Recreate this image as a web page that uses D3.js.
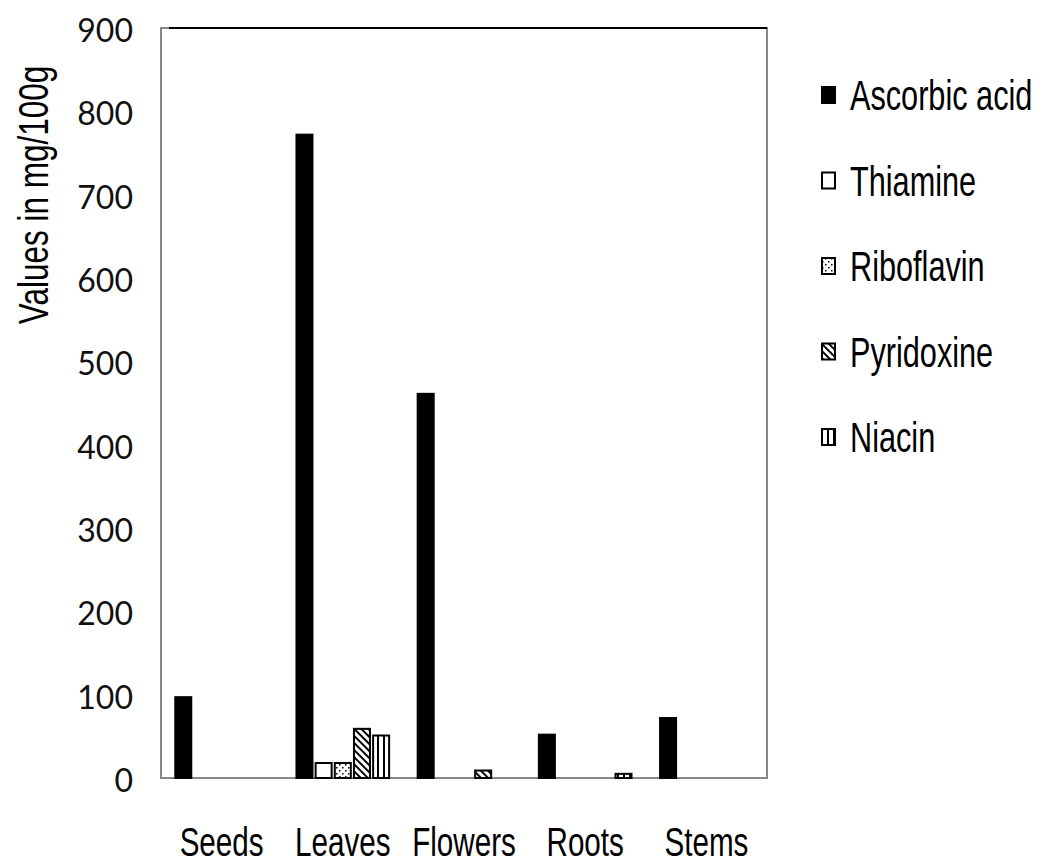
<!DOCTYPE html>
<html>
  <head>
    <meta charset="utf-8">
    <script src="https://d3js.org/d3.v7.min.js"></script>
    <title>Vitamins by plant part</title>
    <style>
      body { margin: 0px; background: #fff; }
      .narrow { font-family: 'Liberation Sans', Arial, sans-serif; fill: #000; }
      .ytick text { font-family: Lato, 'Noto Sans', sans-serif; font-size: 32px; fill: #111; }
    </style>
  </head>
  <body>
    <svg width="1044" height="865"></svg>
    <script>
      const categories = ['Seeds', 'Leaves', 'Flowers', 'Roots', 'Stems'];
      const seriesNames = ['Ascorbic acid', 'Thiamine', 'Riboflavin', 'Pyridoxine', 'Niacin'];
      const ascorbic = [97, 772, 461, 52, 72];
      const thiamine = [0, 18, 0, 0, 0];
      const riboflavin = [0, 18, 0, 0, 0];
      const pyridoxine = [0, 59, 9, 0, 0];
      const niacin = [0, 51, 0, 5, 0];
      const yTicks = [0, 100, 200, 300, 400, 500, 600, 700, 800, 900];
      const yLabel = 'Values in mg/100g';

      const seriesValues = [ascorbic, thiamine, riboflavin, pyridoxine, niacin];
      const fills = ['#000', '#fff', 'url(#dots)', 'url(#diag)', 'url(#vert)'];

      const margin = { left: 161, top: 28, right: 277, bottom: 87 };
      const svg = d3.select('svg');
      const width = +svg.attr('width');
      const height = +svg.attr('height');
      const innerWidth = width - margin.left - margin.right;
      const innerHeight = height - margin.top - margin.bottom;

      // patterns
      const defs = svg.append('defs');
      const dots = defs.append('pattern').attr('id', 'dots')
          .attr('patternUnits', 'userSpaceOnUse').attr('width', 6).attr('height', 6);
      dots.append('rect').attr('width', 6).attr('height', 6).attr('fill', '#fff');
      dots.append('rect').attr('x', 1).attr('y', 1).attr('width', 1.5).attr('height', 1.5).attr('fill', '#000');
      dots.append('rect').attr('x', 4).attr('y', 4).attr('width', 1.5).attr('height', 1.5).attr('fill', '#000');
      const diag = defs.append('pattern').attr('id', 'diag')
          .attr('patternUnits', 'userSpaceOnUse').attr('width', 5).attr('height', 5)
          .attr('patternTransform', 'rotate(-45)');
      diag.append('rect').attr('width', 5).attr('height', 5).attr('fill', '#fff');
      diag.append('rect').attr('width', 2).attr('height', 5).attr('fill', '#000');
      const vert = defs.append('pattern').attr('id', 'vert')
          .attr('patternUnits', 'userSpaceOnUse').attr('width', 6).attr('height', 6);
      vert.append('rect').attr('width', 6).attr('height', 6).attr('fill', '#fff');
      vert.append('rect').attr('x', 0).attr('width', 2).attr('height', 6).attr('fill', '#000');

      const g = svg.append('g')
          .attr('transform', `translate(${margin.left},${margin.top})`);

      const x0 = d3.scaleBand()
        .domain(categories)
        .range([0, innerWidth])
        .paddingInner(0.2)
        .paddingOuter(0.1);
      const x1 = d3.scaleBand()
        .domain(seriesNames)
        .range([0, x0.bandwidth()])
        .padding(0.06);
      const yScale = d3.scaleLinear()
        .domain([0, 900])
        .range([innerHeight, 0]);

      // frame
      g.append('rect')
          .attr('width', innerWidth).attr('height', innerHeight)
          .attr('fill', 'none').attr('stroke', '#888').attr('stroke-width', 2);
      g.append('line')
          .attr('x1', 8).attr('x2', innerWidth).attr('y1', 0).attr('y2', 0)
          .attr('stroke', '#000').attr('stroke-width', 2);

      // bars
      seriesNames.forEach((s, i) => {
        const vals = seriesValues[i];
        g.append('g').selectAll('rect')
          .data(categories.map((c, j) => ({ c, v: vals[j] })).filter(d => d.v > 0))
          .enter().append('rect')
            .attr('x', d => x0(d.c) + x1(s) + 1)
            .attr('y', d => yScale(d.v))
            .attr('width', x1.bandwidth() - 2)
            .attr('height', d => innerHeight - yScale(d.v))
            .attr('fill', fills[i])
            .attr('stroke', '#000')
            .attr('stroke-width', 2);
      });

      // y axis
      const yAxis = d3.axisLeft(yScale)
        .tickValues(yTicks)
        .tickSize(0)
        .tickPadding(28);
      const yAxisG = g.append('g').attr('class', 'ytick').call(yAxis);
      yAxisG.select('.domain').remove();
      yAxisG.selectAll('text').attr('dy', '0.42em');

      // condensed text: measure, then squeeze to a shorter length
      const narrowText = (parent, x, y, str, size, sx, anchor, rot) => {
        const t = parent.append('text')
          .attr('class', 'narrow')
          .attr('x', x).attr('y', y)
          .attr('text-anchor', anchor)
          .style('font-size', size + 'px')
          .text(str);
        if (rot) t.attr('transform', `rotate(${rot},${x},${y})`);
        const w = t.node().getComputedTextLength();
        t.attr('textLength', w * sx).attr('lengthAdjust', 'spacingAndGlyphs');
        return t;
      };

      // category labels
      categories.forEach(c => {
        narrowText(g, x0(c) + x0.bandwidth() / 2, innerHeight + 78, c, 40, 0.74, 'middle');
      });

      // y label
      narrowText(svg, 48, 195, yLabel, 42, 0.75, 'middle', -90);

      // legend
      const legend = svg.append('g').attr('transform', 'translate(821,95)');
      seriesNames.forEach((s, i) => {
        const row = legend.append('g').attr('transform', `translate(0,${i * 85.5})`);
        row.append('rect')
            .attr('x', 1).attr('y', -8).attr('width', 13).attr('height', 16)
            .attr('fill', fills[i]).attr('stroke', '#000').attr('stroke-width', 2);
        narrowText(row, 29, 15, s, 42, 0.73, 'start');
      });
    </script>
  </body>
</html>
